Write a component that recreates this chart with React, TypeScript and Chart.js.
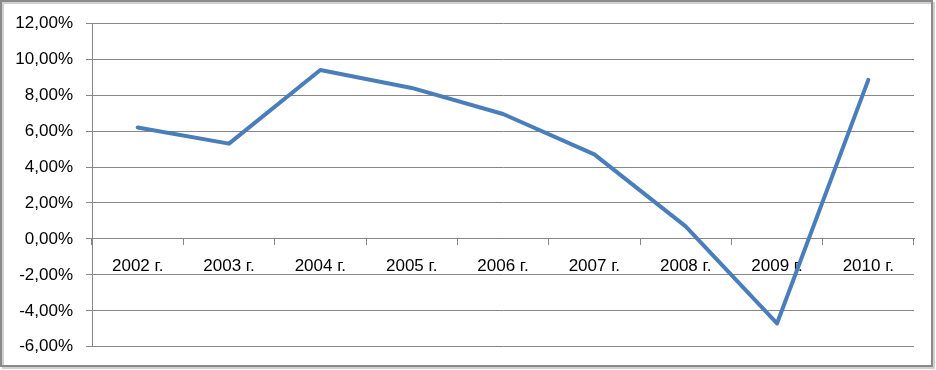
import React, { useEffect, useRef } from "react";
import { Chart, registerables } from "chart.js";

Chart.register(...registerables);

const categories = ["2002 г.", "2003 г.", "2004 г.", "2005 г.", "2006 г.", "2007 г.", "2008 г.", "2009 г.", "2010 г."];
const growth = [6.2, 5.3, 9.4, 8.4, 6.95, 4.7, 0.7, -4.7, 8.85];
const yMin = -6;
const yMax = 12;
const yStep = 2;

const FONT = "'Liberation Sans', Arial, sans-serif";

const framePlugin = {
  id: "frame",
  beforeDraw(chart: any) {
    const ctx = chart.ctx;
    ctx.save();
    ctx.fillStyle = "#ffffff";
    ctx.fillRect(0, 0, chart.width, chart.height);
    ctx.strokeStyle = "#d0d0d0";
    ctx.lineWidth = 2;
    ctx.strokeRect(3, 3, 931, 365);
    ctx.strokeStyle = "#8a8a8a";
    ctx.lineWidth = 2;
    ctx.strokeRect(1, 1, 931, 365);
    ctx.restore();
  },
};

export default function App() {
  const ref = useRef<HTMLCanvasElement | null>(null);
  useEffect(() => {
    document.body.style.margin = "0";
    if (!ref.current) return;
    const chart = new Chart(ref.current, {
      type: "line",
      data: {
        labels: categories,
        datasets: [
          {
            data: growth,
            borderColor: "#4a7ebb",
            borderWidth: 4,
            pointRadius: 0,
            tension: 0,
            fill: false,
            borderJoinStyle: "round",
            borderCapStyle: "round",
          } as any,
        ],
      },
      options: {
        animation: false,
        responsive: false,
        devicePixelRatio: 1,
        layout: { padding: { left: 0, right: 22, top: 22, bottom: 22 } },
        plugins: { legend: { display: false }, tooltip: { enabled: false } },
        scales: {
          x: {
            type: "category",
            position: { y: 0 } as any,
            offset: true,
            grid: {
              offset: true,
              drawOnChartArea: false,
              drawTicks: true,
              tickLength: 6,
              color: "#868686",
              lineWidth: 1,
            },
            border: { display: true, color: "#868686", width: 1 },
            ticks: {
              color: "#000000",
              font: { family: FONT, size: 17 },
              padding: 11,
              maxRotation: 0,
              autoSkip: false,
            },
          },
          y: {
            min: yMin,
            max: yMax,
            afterFit(scale: any) {
              scale.width = 92;
            },
            grid: {
              color: "#868686",
              lineWidth: 1,
              drawTicks: true,
              tickLength: 6,
            },
            border: { display: true, color: "#868686", width: 1 },
            ticks: {
              stepSize: yStep,
              color: "#000000",
              font: { family: FONT, size: 17 },
              padding: 13,
              callback: (v: any) => Number(v).toFixed(2).replace(".", ",") + "%",
            },
          },
        },
      },
      plugins: [framePlugin],
    });
    return () => chart.destroy();
  }, []);
  return (
    <div style={{ width: 936, height: 370 }}>
      <canvas ref={ref} width={936} height={370} style={{ display: "block" }} />
    </div>
  );
}
